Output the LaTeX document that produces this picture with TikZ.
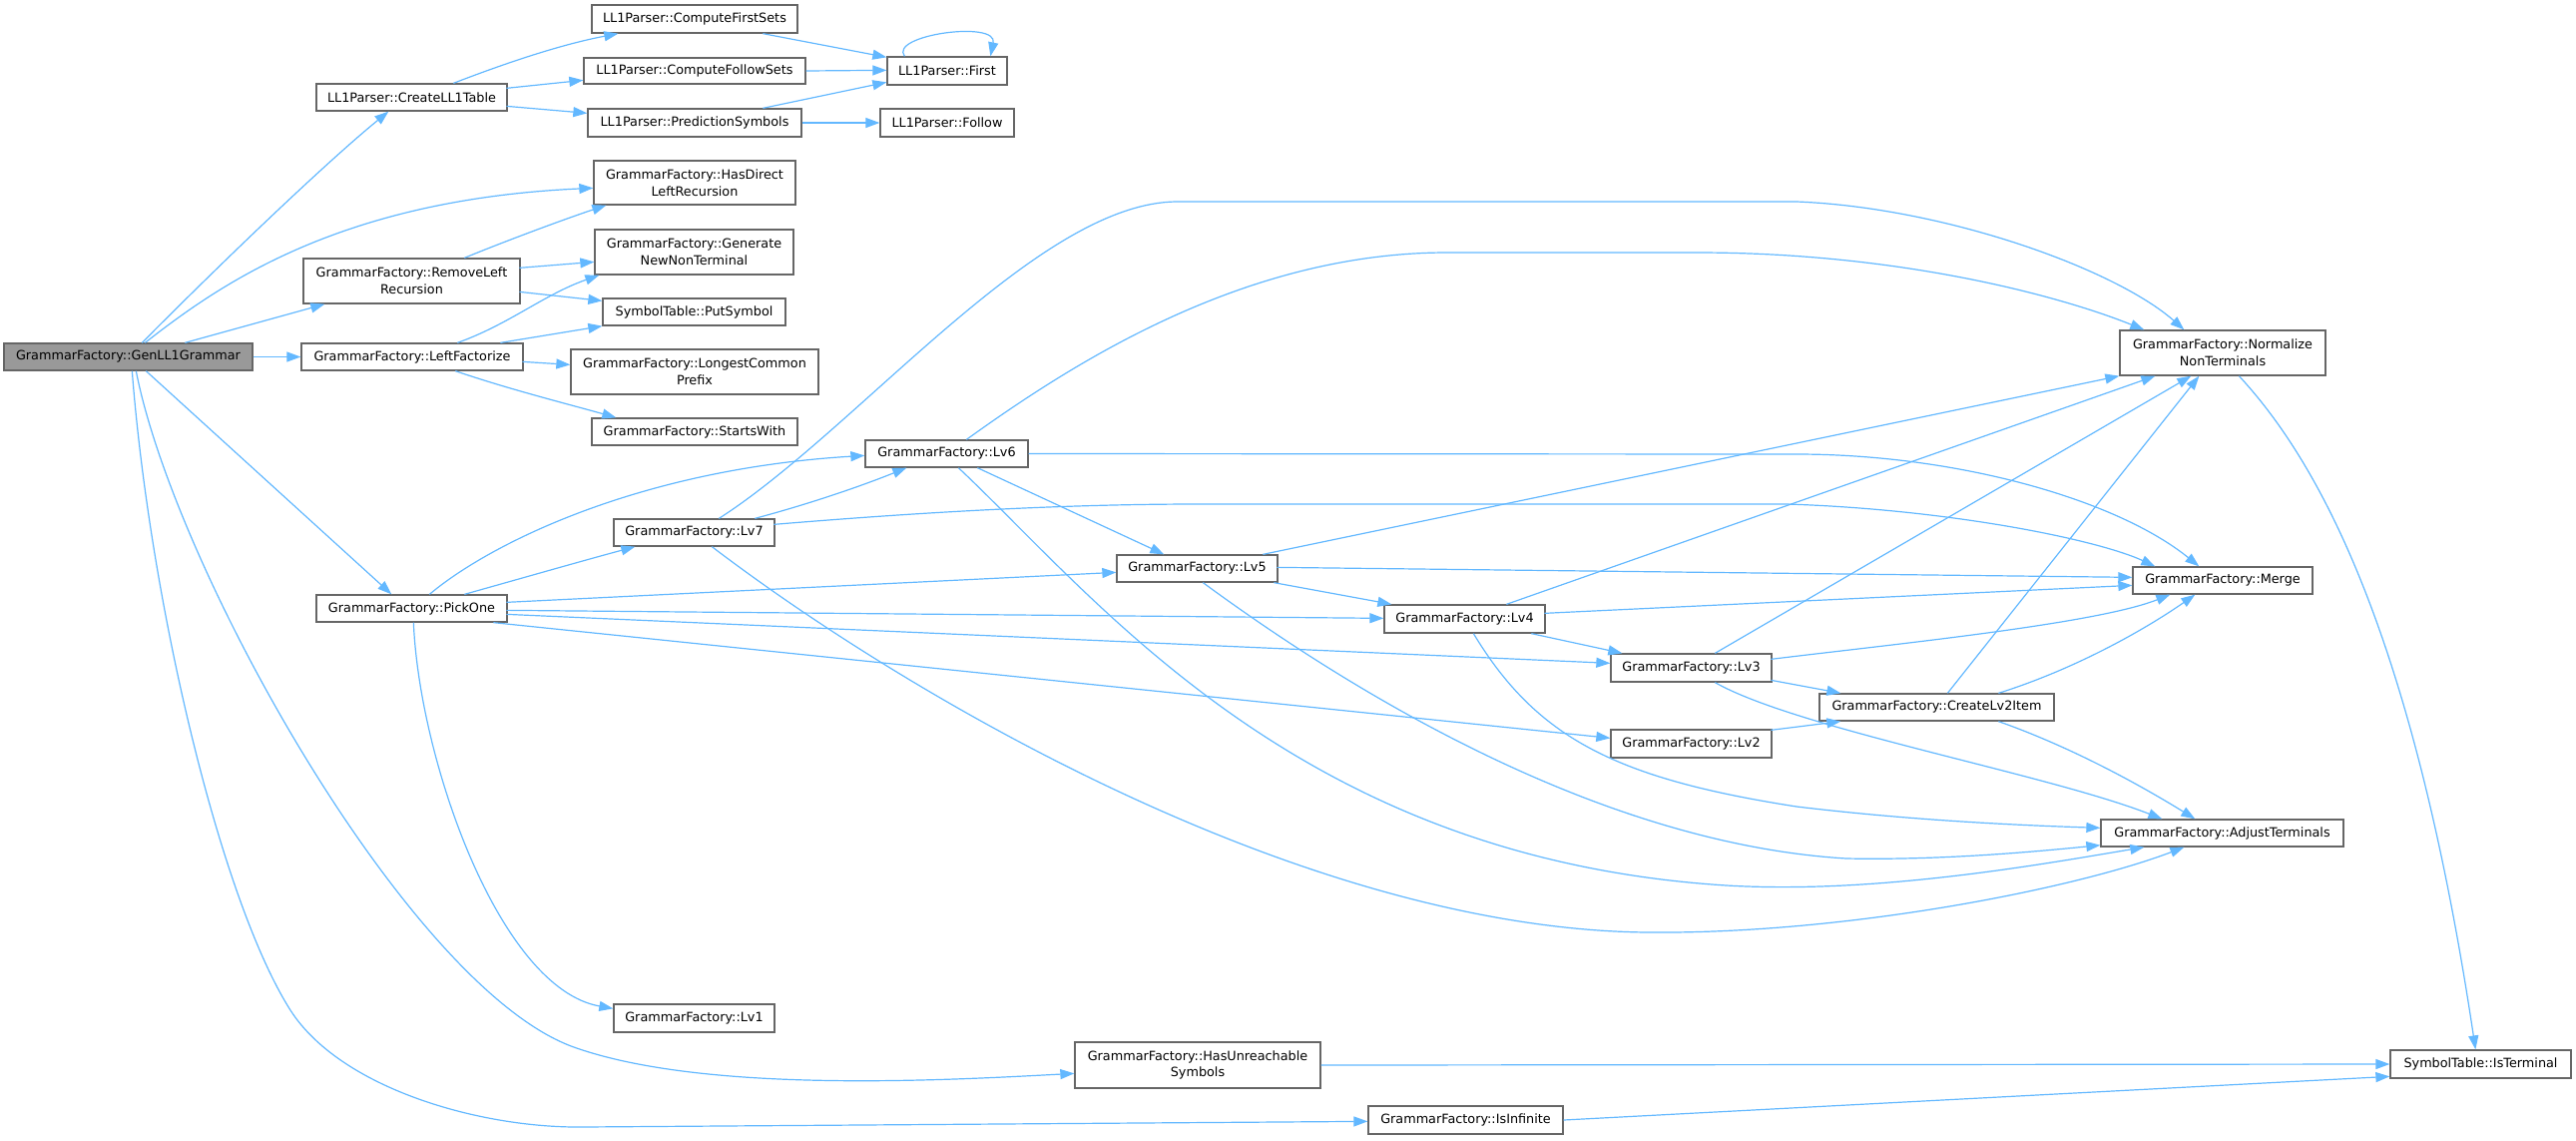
\documentclass[tikz,border=0pt]{standalone}
\usepackage{fontspec}
\setmainfont{DejaVu Sans}
\usetikzlibrary{arrows.meta,calc}
\definecolor{edgec}{HTML}{63B8FF}
\definecolor{bord}{HTML}{666666}
\definecolor{selfill}{HTML}{999999}
\tikzset{
 gbox/.style={draw=bord,fill=white,line width=0.65pt,inner sep=0pt,align=center,font=\fontsize{6.4pt}{8.4pt}\selectfont},
 sel/.style={fill=selfill},
 cg/.style={draw=edgec,line width=0.6pt,-{Triangle[length=7pt,width=5pt]}},
}
\newcommand\gn[7][]{\node[gbox,#1,minimum width={(#4-#2)*0.5pt},minimum height={(#5-#3)*0.5pt}] (#6) at ({(#2+#4)/2},{(#3+#5)/2}) {#7};}
\begin{document}
\begin{tikzpicture}[x=0.5pt,y=-0.5pt]
\useasboundingbox (0,0) rectangle (2581,1142);
\gn[sel]{4}{344}{253}{371}{gen}{GrammarFactory::GenLL1Grammar}
\gn{317}{84}{508}{111}{cll1}{LL1Parser::CreateLL1Table}
\gn{593}{5}{799}{33}{cfirst}{LL1Parser::ComputeFirstSets}
\gn{585}{58}{807}{84}{cfollow}{LL1Parser::ComputeFollowSets}
\gn{589}{109}{803}{137}{pred}{LL1Parser::PredictionSymbols}
\gn{889}{57}{1009}{85}{first}{LL1Parser::First}
\gn{882}{109}{1016}{137}{follow}{LL1Parser::Follow}
\gn{595}{161}{797}{205}{hasdir}{GrammarFactory::HasDirect\\LeftRecursion}
\gn{596}{230}{795}{275}{gennew}{GrammarFactory::Generate\\NewNonTerminal}
\gn{304}{259}{521}{304}{remleft}{GrammarFactory::RemoveLeft\\Recursion}
\gn{604}{299}{787}{326}{putsym}{SymbolTable::PutSymbol}
\gn{302}{344}{524}{371}{leftf}{GrammarFactory::LeftFactorize}
\gn{572}{350}{820}{395}{longest}{GrammarFactory::LongestCommon\\Prefix}
\gn{593}{419}{799}{446}{starts}{GrammarFactory::StartsWith}
\gn{867}{441}{1030}{468}{lv6}{GrammarFactory::Lv6}
\gn{615}{520}{776}{547}{lv7}{GrammarFactory::Lv7}
\gn{317}{596}{508}{623}{pick}{GrammarFactory::PickOne}
\gn{615}{1006}{776}{1034}{lv1}{GrammarFactory::Lv1}
\gn{1077}{1044}{1323}{1090}{hasunr}{GrammarFactory::HasUnreachable\\Symbols}
\gn{1371}{1108}{1566}{1136}{isinf}{GrammarFactory::IsInfinite}
\gn{1119}{556}{1280}{583}{lv5}{GrammarFactory::Lv5}
\gn{1387}{606}{1548}{634}{lv4}{GrammarFactory::Lv4}
\gn{1614}{655}{1775}{683}{lv3}{GrammarFactory::Lv3}
\gn{1823}{695}{2058}{722}{clv2}{GrammarFactory::CreateLv2Item}
\gn{1614}{731}{1775}{759}{lv2}{GrammarFactory::Lv2}
\gn{2124}{331}{2330}{376}{norm}{GrammarFactory::Normalize\\NonTerminals}
\gn{2137}{568}{2317}{595}{merge}{GrammarFactory::Merge}
\gn{2105}{821}{2348}{848}{adjust}{GrammarFactory::AdjustTerminals}
\gn{2395}{1052}{2576}{1080}{isterm}{SymbolTable::IsTerminal}
% GenLL1Grammar
\draw[cg] ($(gen.north west)+(139,0)$) .. controls (230,255) and (330,160) .. ($(cll1.south west)+(73,0)$);
\draw[cg] ($(gen.north west)+(142,0)$) .. controls (220,285) and (340,200) .. ($(hasdir.north west)+(0,28)$);
\draw[cg] ($(gen.north west)+(182,0)$) -- ($(remleft.south west)+(22,0)$);
\draw[cg] (gen.east) -- (leftf.west);
\draw[cg] ($(gen.south west)+(143,0)$) -- ($(pick.north west)+(76,0)$);
\draw[cg] ($(gen.south west)+(133,0)$) .. controls (175,570) and (410,990) .. (575,1049) .. controls (707,1096) and (950,1082) .. ($(hasunr.north west)+(0,32)$);
\draw[cg] ($(gen.south west)+(129,0)$) .. controls (150,600) and (220,900) .. (291,1012) .. controls (341,1090) and (480,1130) .. (583,1129) -- ($(isinf.north west)+(0,16)$);
\draw[cg] ($(pick.south west)+(98,0)$) .. controls (420,760) and (500,990) .. ($(lv1.north west)+(0,5)$);
% CreateLL1Table
\draw[cg] ($(cll1.north west)+(138,0)$) .. controls (520,58) and (570,43) .. ($(cfirst.south west)+(27,0)$);
\draw[cg] ($(cll1.north west)+(191,5)$) -- ($(cfollow.north west)+(0,23)$);
\draw[cg] ($(cll1.north west)+(191,23)$) -- ($(pred.north west)+(0,5)$);
\draw[cg] ($(cfirst.south west)+(172,0)$) -- ($(first.north west)+(0,1)$);
\draw[cg] (cfollow.east) -- ($(first.north west)+(0,14)$);
\draw[cg] ($(pred.north west)+(176,0)$) -- ($(first.north west)+(0,26)$);
\draw[cg] (pred.east) -- (follow.west);
\draw[cg] ($(first.north west)+(18,0)$) .. controls (890,35) and (1000,20) .. ($(first.north west)+(104,0)$);
% RemoveLeftRecursion
\draw[cg] ($(remleft.north west)+(162,0)$) .. controls (510,240) and (570,218) .. ($(hasdir.south west)+(13,0)$);
\draw[cg] ($(remleft.north west)+(217,10)$) -- ($(gennew.north west)+(0,33)$);
\draw[cg] ($(remleft.north west)+(217,34)$) -- ($(putsym.north west)+(0,3)$);
% LeftFactorize
\draw[cg] ($(leftf.north west)+(157,0)$) .. controls (510,325) and (545,295) .. ($(gennew.south west)+(5,0)$);
\draw[cg] ($(leftf.north west)+(200,0)$) -- (putsym.south west);
\draw[cg] ($(leftf.north west)+(222,19)$) -- ($(longest.north west)+(0,16)$);
\draw[cg] ($(leftf.south west)+(155,0)$) .. controls (510,390) and (570,405) .. ($(starts.north west)+(25,0)$);
% PickOne
\draw[cg] ($(pick.north west)+(114,0)$) .. controls (490,545) and (640,470) .. ($(lv6.north west)+(0,16)$);
\draw[cg] ($(pick.north west)+(149,0)$) .. controls (520,580) and (590,560) .. ($(lv7.south west)+(22,0)$);
\draw[cg] ($(pick.north west)+(191,8)$) -- ($(lv5.north west)+(0,18)$);
\draw[cg] ($(pick.north west)+(191,16)$) -- ($(lv4.north west)+(0,14)$);
\draw[cg] ($(pick.north west)+(191,20)$) -- ($(lv3.north west)+(0,10)$);
\draw[cg] ($(pick.south west)+(178,0)$) -- ($(lv2.north west)+(0,9)$);
% Lv7
\draw[cg] ($(lv7.north west)+(142,0)$) .. controls (810,505) and (860,488) .. ($(lv6.south west)+(42,0)$);
\draw[cg] ($(lv7.north west)+(106,0)$) .. controls (860,430) and (1040,202) .. (1180,202) -- (1800,202) .. controls (1950,208) and (2120,270) .. ($(norm.north west)+(65,0)$);
\draw[cg] ($(lv7.north west)+(161,6)$) .. controls (900,515) and (1050,505) .. (1200,505) -- (1790,505) .. controls (1950,510) and (2100,540) .. ($(merge.north west)+(23,0)$);
\draw[cg] ($(lv7.south west)+(99,0)$) .. controls (900,690) and (1300,930) .. (1650,934) .. controls (1850,936) and (2080,890) .. ($(adjust.south west)+(84,0)$);
% Lv6
\draw[cg] ($(lv6.south west)+(113,0)$) -- ($(lv5.north west)+(48,0)$);
\draw[cg] ($(lv6.north west)+(102,0)$) .. controls (1080,360) and (1250,253) .. (1450,253) -- (1700,253) .. controls (1900,253) and (2060,295) .. ($(norm.north west)+(25,0)$);
\draw[cg] (lv6.east) -- (1800,455) .. controls (1960,455) and (2120,500) .. ($(merge.north west)+(67,0)$);
\draw[cg] ($(lv6.south west)+(94,0)$) .. controls (1100,600) and (1300,860) .. (1730,887) .. controls (1880,896) and (2050,865) .. ($(adjust.south west)+(44,0)$);
% Lv5
\draw[cg] ($(lv5.south west)+(158,0)$) -- ($(lv4.north west)+(8,0)$);
\draw[cg] ($(lv5.north west)+(147,0)$) -- (norm.south west);
\draw[cg] ($(lv5.north west)+(161,13)$) -- ($(merge.north west)+(0,11)$);
\draw[cg] ($(lv5.south west)+(87,0)$) .. controls (1350,690) and (1600,845) .. (1850,860) .. controls (1950,862) and (2050,852) .. ($(adjust.south west)+(0,-2)$);
% Lv4
\draw[cg] ($(lv4.south west)+(148,0)$) -- ($(lv3.north west)+(12,0)$);
\draw[cg] ($(lv4.north west)+(123,0)$) -- ($(norm.south west)+(36,0)$);
\draw[cg] ($(lv4.north west)+(161,9)$) -- ($(merge.north west)+(0,19)$);
\draw[cg] ($(lv4.south west)+(90,0)$) .. controls (1540,740) and (1620,780) .. (1800,808) .. controls (1900,820) and (2000,826) .. ($(adjust.north west)+(0,9)$);
% Lv3
\draw[cg] ($(lv3.north west)+(161,27)$) -- ($(clv2.north west)+(22,0)$);
\draw[cg] ($(lv3.north west)+(105,0)$) -- ($(norm.south west)+(72,0)$);
\draw[cg] ($(lv3.north west)+(161,6)$) .. controls (1900,645) and (2100,625) .. ($(merge.south west)+(38,0)$);
\draw[cg] ($(lv3.south west)+(105,0)$) .. controls (1800,730) and (2050,775) .. ($(adjust.north west)+(62,0)$);
% CreateLv2Item, Lv2
\draw[cg] ($(clv2.north west)+(129,0)$) -- ($(norm.south west)+(80,0)$);
\draw[cg] ($(clv2.north west)+(180,0)$) .. controls (2080,670) and (2150,630) .. ($(merge.south west)+(63,0)$);
\draw[cg] ($(clv2.south west)+(180,0)$) .. controls (2080,750) and (2150,790) .. ($(adjust.north west)+(95,0)$);
\draw[cg] ($(lv2.north west)+(161,1)$) -- ($(clv2.south west)+(22,0)$);
% to IsTerminal
\draw[cg] ($(norm.south west)+(120,0)$) .. controls (2330,470) and (2420,650) .. ($(isterm.north west)+(86,0)$);
\draw[cg] (hasunr.east) -- (isterm.west);
\draw[cg] (isinf.east) -- ($(isterm.north west)+(0,27)$);
\end{tikzpicture}
\end{document}
